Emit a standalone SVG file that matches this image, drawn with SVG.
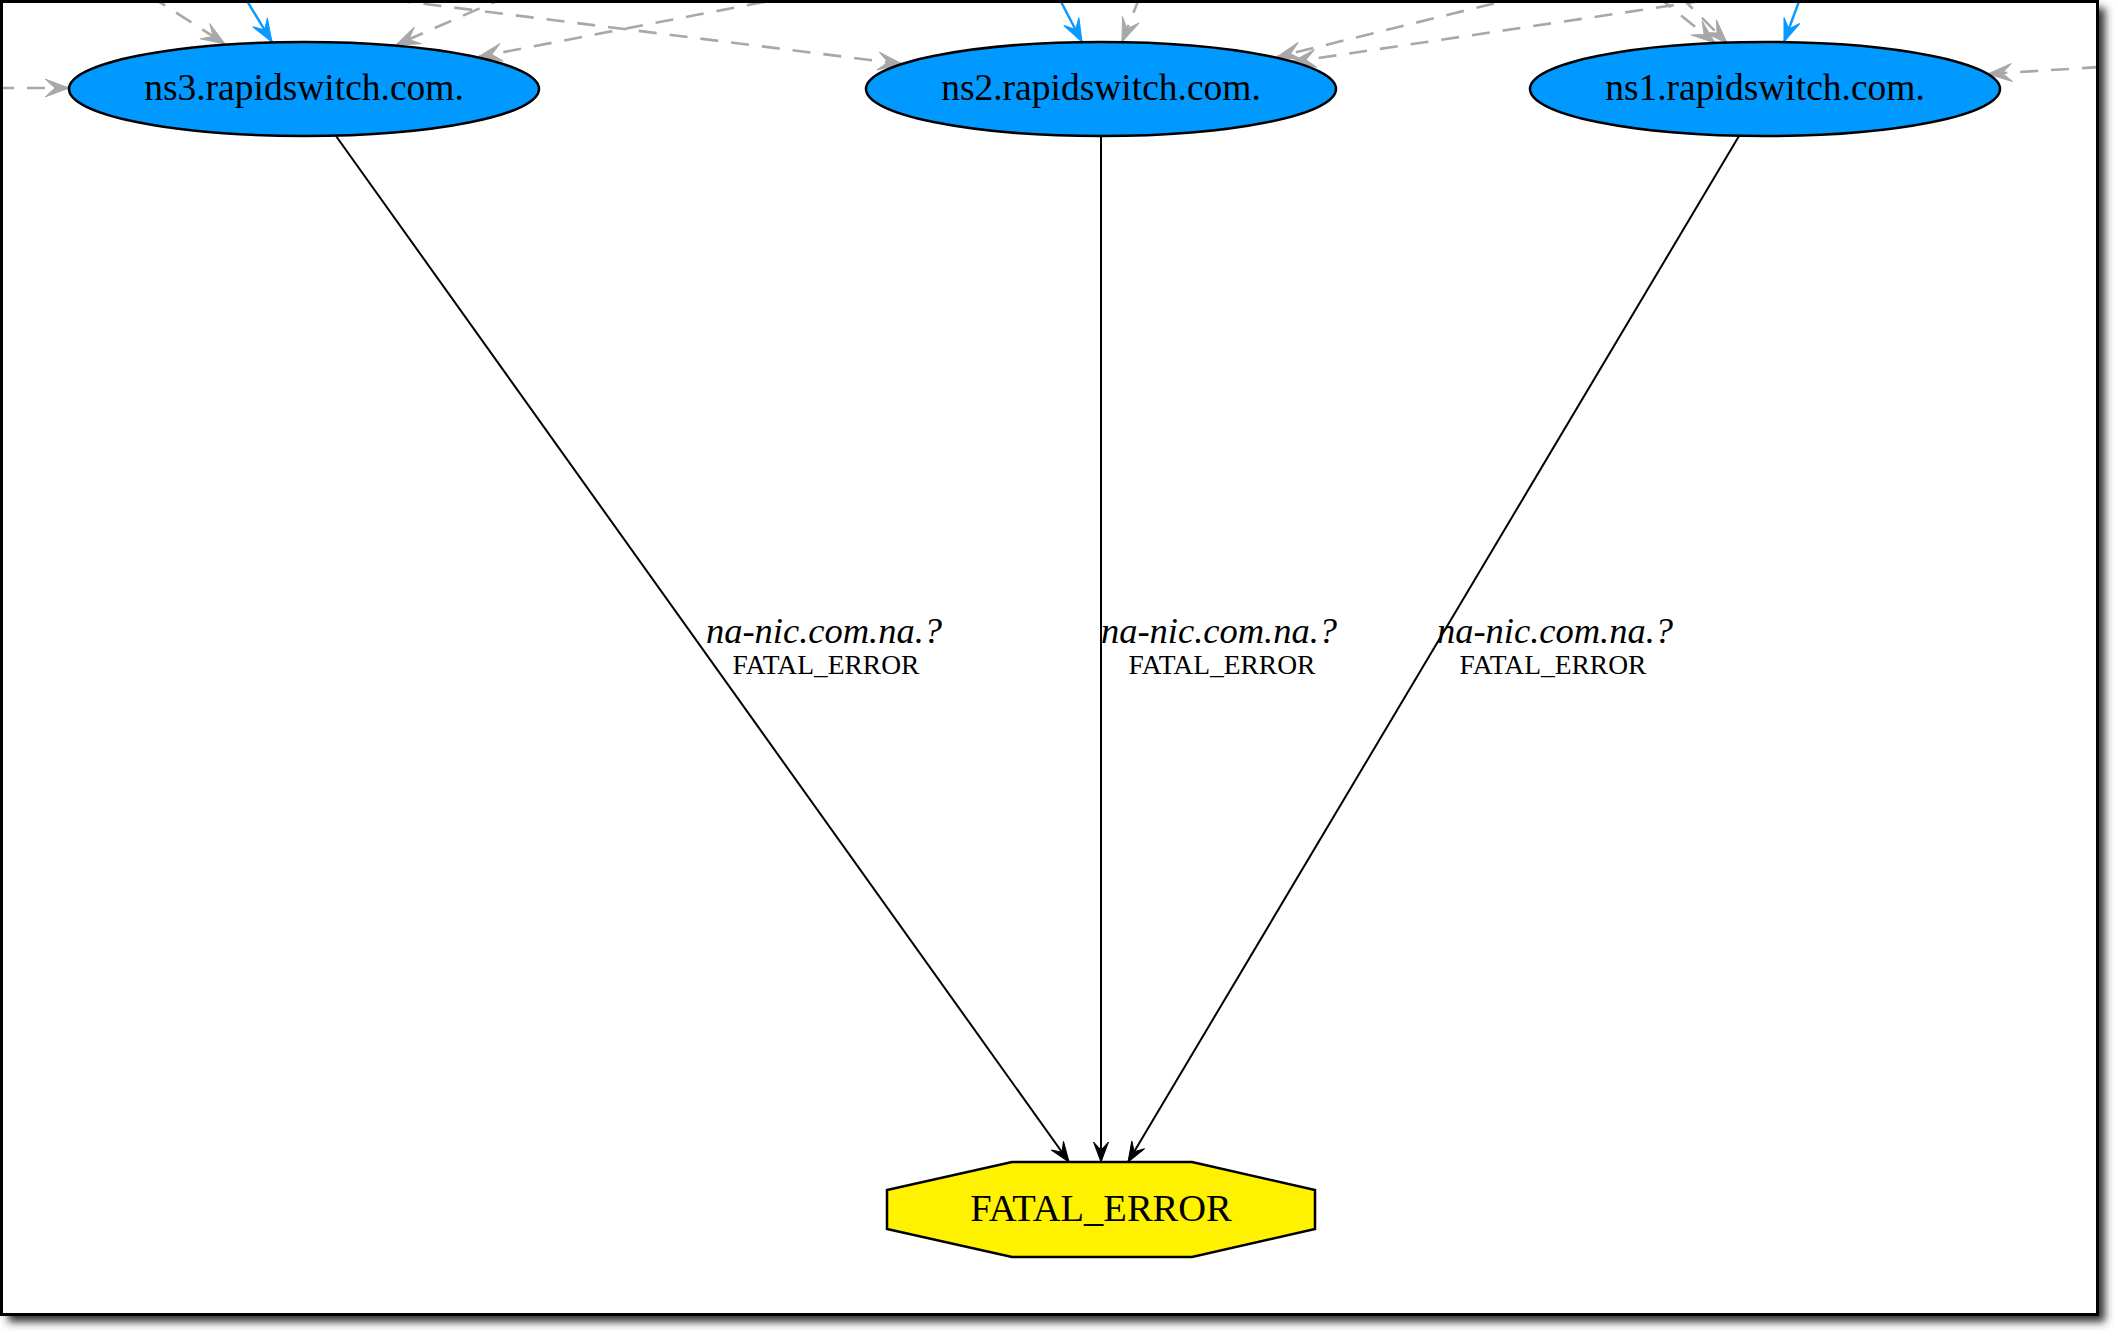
<svg xmlns="http://www.w3.org/2000/svg" width="2118" height="1336" viewBox="0 0 2118 1336">
<style>
.node-ell{fill:#0099ff;stroke:#000;stroke-width:2.5}
.node-oct{fill:#fff200;stroke:#000;stroke-width:2.5}
.nlabel{font-family:"Liberation Serif","Times New Roman",serif;font-size:37.5px;fill:#000;text-anchor:middle}
.flabel{font-family:"Liberation Serif","Times New Roman",serif;font-size:38.5px;fill:#000;text-anchor:middle}
.elabel1{font-family:"Liberation Serif","Times New Roman",serif;font-size:36.5px;font-style:italic;fill:#000;text-anchor:middle}
.elabel2{font-family:"Liberation Serif","Times New Roman",serif;font-size:27.5px;fill:#000;text-anchor:middle}
.e-black{fill:none;stroke:#000;stroke-width:2;marker-end:url(#vee-black)}
.e-gray{fill:none;stroke:#a8a8a8;stroke-width:2.6;stroke-dasharray:18,13;marker-end:url(#vee-gray)}
.e-blue{fill:none;stroke:#0a99ff;stroke-width:2.4;marker-end:url(#vee-blue)}
</style>
<defs>
<filter id="shadow" x="-5%" y="-5%" width="110%" height="110%">
<feGaussianBlur stdDeviation="4"/>
</filter>
<clipPath id="frameclip"><rect x="1" y="1" width="2097" height="1314"/></clipPath>
<marker id="vee-black" viewBox="-22 -10 24 20" markerWidth="24" markerHeight="20" refX="0" refY="0" orient="auto" markerUnits="userSpaceOnUse">
<path d="M0,0 L-20,-7.5 L-12,0 L-20,7.5 Z" fill="#000" stroke="#000" stroke-width="1"/>
</marker>
<marker id="vee-gray" viewBox="-26 -12 28 24" markerWidth="28" markerHeight="24" refX="0" refY="0" orient="auto" markerUnits="userSpaceOnUse">
<path d="M0,0 L-24,-9 L-14,0 L-24,9 Z" fill="#a8a8a8" stroke="#a8a8a8" stroke-width="1"/>
</marker>
<marker id="vee-blue" viewBox="-26 -12 28 24" markerWidth="28" markerHeight="24" refX="0" refY="0" orient="auto" markerUnits="userSpaceOnUse">
<path d="M0,0 L-23,-8.5 L-14,0 L-23,8.5 Z" fill="#0a99ff" stroke="#0a99ff" stroke-width="1"/>
</marker>
</defs>
<rect width="2118" height="1336" fill="#fff"/>
<rect x="8" y="8" width="2097" height="1314" fill="#333" filter="url(#shadow)"/>
<rect x="1" y="1" width="2097" height="1314" fill="#fff"/>
<g clip-path="url(#frameclip)">
<g id="connectors">
<line class="e-gray" x1="150" y1="-4" x2="225" y2="44"/>
<line class="e-blue" x1="244" y1="-4" x2="272" y2="42"/>
<line class="e-gray" x1="508" y1="-4" x2="396" y2="45"/>
<line class="e-gray" x1="795" y1="-4" x2="478" y2="57"/>
<line class="e-gray" x1="362" y1="-4" x2="902" y2="64"/>
<line class="e-gray" x1="-4" y1="88" x2="69" y2="88"/>
<line class="e-blue" x1="1058" y1="-4" x2="1082" y2="42"/>
<line class="e-gray" x1="1140" y1="-4" x2="1122" y2="42"/>
<line class="e-gray" x1="1524" y1="-4" x2="1277" y2="57"/>
<line class="e-gray" x1="1735" y1="-4" x2="1292" y2="62"/>
<line class="e-gray" x1="1657" y1="-4" x2="1715" y2="43"/>
<line class="e-gray" x1="1680" y1="-4" x2="1727" y2="43"/>
<line class="e-blue" x1="1801" y1="-4" x2="1784" y2="42"/>
<line class="e-gray" x1="2100" y1="67" x2="1988" y2="74"/>
<line class="e-black" x1="336" y1="136" x2="1069" y2="1162"/>
<line class="e-black" x1="1101" y1="136" x2="1101" y2="1162"/>
<line class="e-black" x1="1739" y1="136" x2="1128" y2="1162"/>
<text class="elabel1" x="824" y="643">na-nic.com.na.?</text>
<text class="elabel2" x="826" y="674">FATAL_ERROR</text>
<text class="elabel1" x="1219" y="643">na-nic.com.na.?</text>
<text class="elabel2" x="1222" y="674">FATAL_ERROR</text>
<text class="elabel1" x="1555" y="643">na-nic.com.na.?</text>
<text class="elabel2" x="1553" y="674">FATAL_ERROR</text>
</g>
<g id="node-ns3">
<ellipse class="node-ell" cx="304" cy="89" rx="235" ry="47"/>
<text class="nlabel" x="304" y="100">ns3.rapidswitch.com.</text>
</g>
<g id="node-ns2">
<ellipse class="node-ell" cx="1101" cy="89" rx="235" ry="47"/>
<text class="nlabel" x="1101" y="100">ns2.rapidswitch.com.</text>
</g>
<g id="node-ns1">
<ellipse class="node-ell" cx="1765" cy="89" rx="235" ry="47"/>
<text class="nlabel" x="1765" y="100">ns1.rapidswitch.com.</text>
</g>
<g id="node-fatal">
<polygon class="node-oct" points="1012,1162 1192,1162 1315,1190 1315,1229 1192,1257 1012,1257 887,1229 887,1190"/>
<text class="flabel" x="1101" y="1221">FATAL_ERROR</text>
</g>
</g>
<rect x="1.5" y="1.5" width="2096" height="1313" fill="none" stroke="#000" stroke-width="3"/>
</svg>
